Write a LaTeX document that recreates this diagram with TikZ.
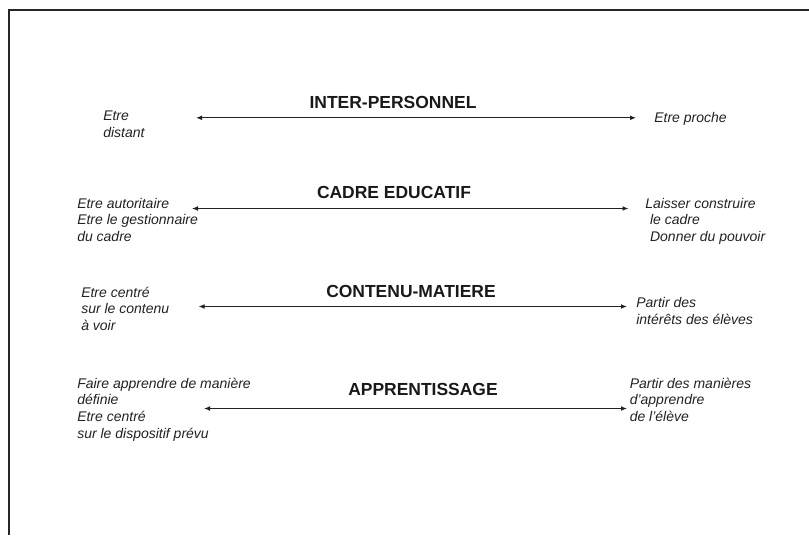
\documentclass[tikz,border=0pt]{standalone}
\usepackage{fontspec}
\setmainfont{Liberation Sans}
\usetikzlibrary{arrows.meta}
\definecolor{ink}{HTML}{222222}
\begin{document}
\begin{tikzpicture}[x=0.75pt,y=-0.75pt,
  frame/.style={line width=1.5pt, draw=black!85},
  axis/.style={draw=ink, line width=0.75pt,
    {Latex[length=4.5pt,width=3.6pt]}-{Latex[length=4.5pt,width=3.6pt]}},
  title/.style={inner sep=0pt, anchor=center,
    font=\fontsize{13.1pt}{15pt}\selectfont\bfseries, text=black!90},
  % the base anchor of a multi-line pole sits on its last line
  pole/.style={inner sep=0pt, anchor=base west, align=left,
    font=\fontsize{10.5pt}{12.4pt}\selectfont\itshape, text=ink},
]
\useasboundingbox (0,0) rectangle (809,535);

% open frame: top and left edges
\coordinate (fr) at (809,10);
\coordinate (fc) at (9,10);
\coordinate (fb) at (9,535);
\draw[frame] (fr) -- (fc) -- (fb);

% headings
\node[title] (t1) at (393,102.4) {INTER-PERSONNEL};
\node[title] (t2) at (394,192.8) {CADRE EDUCATIF};
\node[title] (t3) at (411,291.8) {CONTENU-MATIERE};
\node[title] (t4) at (423,389) {APPRENTISSAGE};

% left poles
\node[pole] (l1) at (103,137) {Etre\\distant};
\node[pole] (l2) at (77,241.5) {Etre autoritaire\\Etre le gestionnaire\\du cadre};
\node[pole] (l3) at (81,330.3) {Etre centré\\sur le contenu\\à voir};
\node[pole] (l4) at (77,438) {Faire apprendre de manière\\définie\\Etre centré\\sur le dispositif prévu};

% right poles
\node[pole] (r1) at (654,122) {Etre proche};
\node[pole] (r2) at (645,241.5) {Laisser construire\\\hspace*{3.6pt}le cadre\\\hspace*{3.6pt}Donner du pouvoir};
\node[pole] (r3) at (636,324) {Partir des\\intérêts des élèves};
\node[pole] (r4) at (629.5,421.5) {Partir des manières\\d'apprendre\\de l'élève};

% axis end points
\coordinate (a1l) at (196,117.8);   \coordinate (a1r) at (636,117.8);
\coordinate (a2l) at (192,208.5);   \coordinate (a2r) at (628.5,208.5);
\coordinate (a3l) at (198.6,306.5); \coordinate (a3r) at (627,306.5);
\coordinate (a4l) at (204,408.5);   \coordinate (a4r) at (627,408.5);

\draw[axis] (a1l) -- (a1r);
\draw[axis] (a2l) -- (a2r);
\draw[axis] (a3l) -- (a3r);
\draw[axis] (a4l) -- (a4r);
\end{tikzpicture}
\end{document}
